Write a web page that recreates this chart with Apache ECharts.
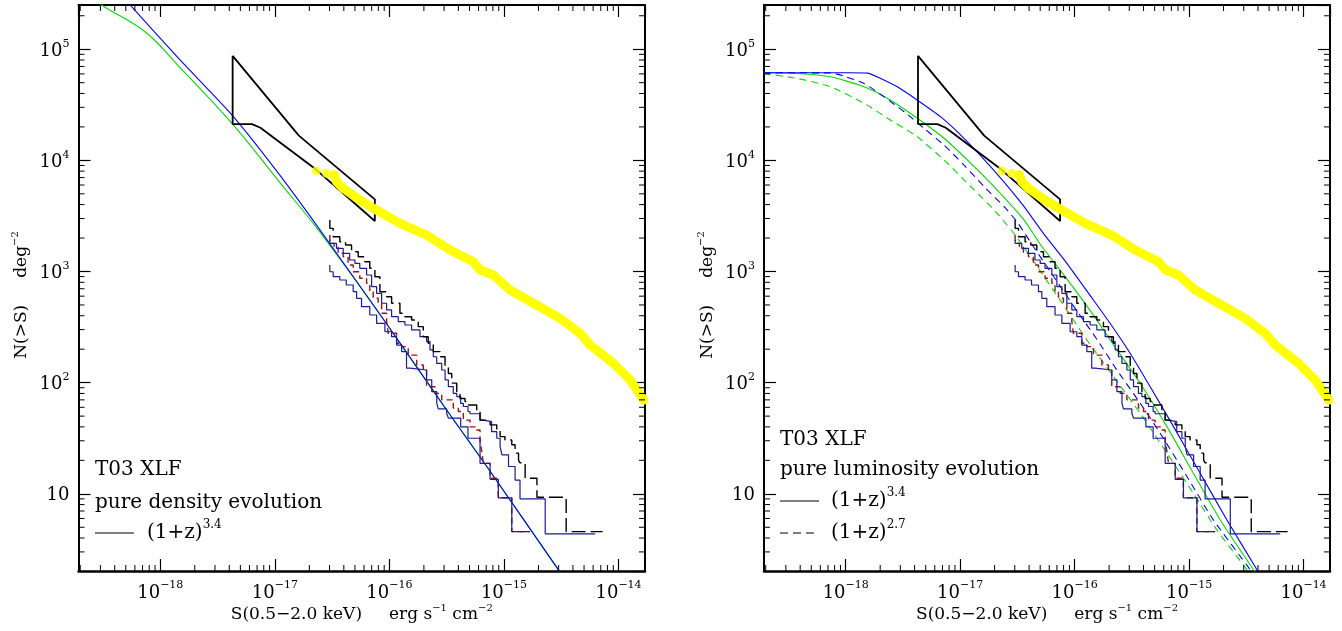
<!DOCTYPE html>
<html>
<head>
<meta charset="utf-8">
<title>N(&gt;S) T03 XLF</title>
<script src="https://cdn.jsdelivr.net/npm/echarts@6/dist/echarts.min.js"></script>
<style>
  html, body { margin: 0; padding: 0; background: #fff; }
  #chart { width: 1342px; height: 631px; }
</style>
</head>
<body>
<div id="chart"></div>
<script>
// flux values are in units of 1e-16 erg s^-1 cm^-2, counts N(>S) in deg^-2
const FLUX_EXP = -16
const X_MIN = 0.001932, X_MAX = 170.2
const Y_MIN = 2.02, Y_MAX = 2.5e5
const xTickExps = [-18, -17, -16, -15, -14]
const yTickExps = [1, 2, 3, 4, 5]
const minorMults = [2, 3, 4, 5, 6, 7, 8, 9]

// yellow source counts
const yellowDots = [[0.231, 8063], [0.282, 7640], [0.329, 7380]]
const yellowBand = [[0.329, 7380], [0.346, 6420], [0.395, 5600], [0.552, 4395], [0.773, 3574], [1.24, 2713],
  [2.11, 2130], [3.38, 1561], [5.40, 1225], [6.18, 1037], [8.07, 930], [11.3, 682], [18.1, 518],
  [30.9, 379], [46.2, 278], [56.6, 218], [90.4, 149], [126, 106], [166, 69.8]]

// fluctuation analysis region
const bowtie = [[0.0428, 87200], [0.162, 16710], [0.746, 4460], [0.746, 2845], [0.226, 8353],
  [0.0748, 19640], [0.0632, 21200], [0.0428, 21200], [0.0428, 87200]]

// observed counts (step curves)
const blackDashed = [[0.302, 2904], [0.323, 2446], [0.369, 2056], [0.414, 1854], [0.467, 1730], [0.534, 1507],
  [0.611, 1358], [0.674, 1225], [0.747, 1069], [0.826, 898], [0.945, 658], [1.045, 593], [1.235, 518],
  [1.366, 421], [1.563, 392], [1.785, 366], [1.975, 319], [2.18, 259], [2.415, 226], [2.763, 190],
  [3.06, 171], [3.27, 139], [3.5, 121], [3.87, 99], [4.13, 83], [4.57, 72], [4.89, 67.5], [5.78, 63],
  [6.18, 55], [6.84, 46], [7.56, 44.6], [8.65, 41.7], [9.25, 37.5], [10.2, 32.7], [11.7, 30.5],
  [12.5, 27.6], [13.4, 23.2], [13.8, 20], [15.3, 19], [19.4, 13.8], [34.9, 9.3], [72.6, 4.57]]
const upperBlue = [[0.302, 1920], [0.345, 1793], [0.395, 1617], [0.45, 1458], [0.5, 1269], [0.551, 1185],
  [0.632, 1069], [0.699, 930], [0.773, 730], [0.855, 637], [0.945, 518], [1.045, 451], [1.194, 392],
  [1.366, 354], [1.563, 330], [1.847, 298], [2.11, 259], [2.26, 234], [2.415, 197], [2.587, 171],
  [2.86, 149], [3.06, 130], [3.27, 106], [3.61, 92], [3.87, 80], [4.19, 75], [4.42, 65], [4.85, 61],
  [5.05, 55], [6.18, 52.5], [6.6, 46], [7.8, 44.6], [8.65, 36.2], [9.25, 31.6], [9.6, 26.6],
  [10.95, 22.4], [12.5, 17.6], [13.8, 13.3], [22.9, 9.0], [62.5, 4.36]]
const redDashed = [[0.302, 2128], [0.329, 1793], [0.357, 1671], [0.395, 1458], [0.436, 1359], [0.483, 1144],
  [0.551, 995], [0.632, 869], [0.674, 783], [0.722, 658], [0.798, 574], [0.855, 518], [0.945, 421],
  [0.976, 354], [1.156, 278], [1.278, 226], [1.46, 211], [1.73, 177], [1.975, 144], [2.11, 130],
  [2.5, 92], [2.86, 80], [3.61, 70], [4.0, 59], [4.42, 55], [5.05, 46], [5.78, 40], [6.18, 37.5],
  [6.4, 30], [6.6, 24], [7.56, 18.8], [8.9, 13.8], [11.7, 9.2], [16.8, 4.57]]
const lowerBlue = [[0.302, 1144], [0.323, 995], [0.369, 898], [0.42, 839], [0.483, 756], [0.517, 658],
  [0.571, 574], [0.674, 483], [0.773, 406], [0.913, 342], [1.045, 287], [1.156, 259], [1.278, 218],
  [1.41, 190], [1.51, 135], [2.11, 130], [2.34, 106], [2.59, 83], [2.67, 65], [3.16, 58], [3.27, 53],
  [4.19, 48], [4.85, 40], [6.18, 31.6], [7.56, 18.8], [8.93, 13.5], [11.7, 9.2], [16.8, 4.57]]

// models, pure density evolution
const pdeBlue = [[0.0045, 3.1e5], [0.00547, 2.49e5], [0.01445, 82650], [0.0423, 25550], [0.108, 7600],
  [0.242, 2446], [0.855, 392], [3.16, 56.8], [7.08, 17.6], [29.9, 2.07], [36, 1.6]]
const pdeGreen = [[0.0027, 2.8e5], [0.00309, 2.49e5], [0.0074, 1.43e5], [0.01445, 70500], [0.0428, 21200],
  [0.108, 6513], [0.242, 2330], [0.855, 392], [3.16, 56.8], [7.08, 17.6], [29.9, 2.07], [36, 1.6]]

// models, pure luminosity evolution
const pleBlue34 = [[0.00193, 61400], [0.0105, 61400], [0.01545, 61000], [0.0202, 54600], [0.0282, 45900],
  [0.0423, 34800], [0.0677, 24600], [0.108, 15800], [0.185, 8760], [0.277, 5410], [0.362, 3830],
  [0.533, 2205], [0.855, 1185], [1.46, 554], [2.04, 342], [3.05, 184], [4.57, 92], [7.31, 40.2],
  [12.5, 15.3], [21.4, 5.82], [39.2, 2.07], [46, 1.6]]
const pleBlue27 = [[0.00193, 61400], [0.0074, 61200], [0.00966, 57200], [0.01445, 49260], [0.0216, 37300],
  [0.0324, 27350], [0.0483, 19410], [0.0723, 13700], [0.108, 9080], [0.162, 5790], [0.242, 3830],
  [0.317, 2760], [0.437, 1671], [0.658, 898], [0.985, 483], [1.58, 242], [2.34, 130], [3.74, 65.3],
  [5.59, 35.1], [9.57, 14.3], [16.3, 5.82], [34.2, 2.07], [40, 1.6]]
const pleGreen34 = [[0.00193, 61400], [0.00378, 60500], [0.0074, 56500], [0.01445, 45900], [0.0247, 34800],
  [0.0423, 23900], [0.0723, 15800], [0.124, 9400], [0.211, 5410], [0.362, 2904], [0.499, 1770],
  [0.855, 858], [1.46, 405], [2.34, 197], [3.74, 98.8], [6.4, 40.2], [10.9, 15.3], [18.7, 5.82],
  [36.6, 2.07], [43, 1.6]]
const pleGreen27 = [[0.00193, 60500], [0.00378, 54600], [0.0074, 45900], [0.01445, 32600], [0.0247, 23000],
  [0.0423, 16300], [0.0723, 10060], [0.124, 5790], [0.211, 3338], [0.317, 1990], [0.745, 555],
  [1.28, 242], [2.19, 113], [3.74, 53], [6.4, 23.2], [10.9, 10.1], [17.5, 4.73], [32, 2.07], [37, 1.6]]

const FONT = 'DejaVu Serif'
const MINUS = '\u2212'

let myChart = echarts.init(document.getElementById('chart'), null, {renderer: 'canvas'})

function decadeOf (v) {
  let e = Math.round(Math.log10(v))
  return Math.abs(Math.log10(v) - e) < 1e-6 ? e : null
}

let labelRich = {
  b: {fontFamily: FONT, fontSize: 18, color: '#000', lineHeight: 22, verticalAlign: 'bottom'},
  s: {fontFamily: FONT, fontSize: 11, color: '#000', lineHeight: 16, verticalAlign: 'top'}
}
let nameRich = {
  t: {fontFamily: FONT, fontSize: 17, color: '#000', lineHeight: 20, verticalAlign: 'bottom'},
  s: {fontFamily: FONT, fontSize: 10, color: '#000', lineHeight: 14, verticalAlign: 'top'}
}

function xAxes (gridIndex) {
  let base = {
    type: 'log', logBase: 10, min: X_MIN, max: X_MAX, gridIndex: gridIndex,
    splitLine: {show: false},
    axisLine: {show: true, onZero: false, lineStyle: {color: '#000', width: 2}},
    axisTick: {show: true, inside: true, length: 12, lineStyle: {color: '#000', width: 1.2}}
  }
  return [
    Object.assign({}, base, {
      position: 'bottom',
      name: '{t|S(0.5' + MINUS + '2.0 keV)     erg s}{s|' + MINUS + '1}{t| cm}{s|' + MINUS + '2}',
      nameLocation: 'middle', nameGap: 32, nameMoveOverlap: false,
      nameTextStyle: {rich: nameRich},
      axisLine: {show: true, onZero: false, lineStyle: {color: '#000', width: 2.5}},
      axisLabel: {
        margin: 9, showMinLabel: false, showMaxLabel: false, hideOverlap: false,
        rich: labelRich,
        formatter: v => {
          let e = decadeOf(v)
          if (e === null || xTickExps.indexOf(e + FLUX_EXP) < 0) return ''
          return '{b|10}{s|' + MINUS + (-(e + FLUX_EXP)) + '}'
        }
      }
    }),
    Object.assign({}, base, {position: 'top', axisLabel: {show: false}})
  ]
}

function yAxes (gridIndex) {
  let base = {
    type: 'log', logBase: 10, min: Y_MIN, max: Y_MAX, gridIndex: gridIndex,
    splitLine: {show: false},
    axisLine: {show: true, onZero: false, lineStyle: {color: '#000', width: 2}},
    axisTick: {show: true, inside: true, length: 12, lineStyle: {color: '#000', width: 1.2}}
  }
  return [
    Object.assign({}, base, {
      position: 'left',
      name: '{t|N(>S)     deg}{s|' + MINUS + '2}',
      nameLocation: 'middle', nameGap: 48, nameMoveOverlap: false,
      nameTextStyle: {rich: nameRich, padding: [0, 14, 0, 0]},
      axisLabel: {
        margin: 9, showMinLabel: false, showMaxLabel: false, hideOverlap: false,
        rich: labelRich,
        formatter: v => {
          let e = decadeOf(v)
          if (e === null || yTickExps.indexOf(e) < 0) return ''
          return e === 1 ? '{b|10}' : '{b|10}{s|' + e + '}'
        }
      }
    }),
    Object.assign({}, base, {position: 'right', axisLabel: {show: false}})
  ]
}

// minor tick positions at 2..9 times each power of ten inside the range
let xMinor = []
for (let k = -3; k <= 2; k++) minorMults.forEach(m => { let v = m * Math.pow(10, k); if (v > X_MIN && v < X_MAX) xMinor.push(v) })
let yMinor = []
for (let k = 0; k <= 5; k++) minorMults.forEach(m => { let v = m * Math.pow(10, k); if (v > Y_MIN && v < Y_MAX) yMinor.push(v) })

function tickLine (x1, y1, x2, y2) {
  return {type: 'line', shape: {x1: x1, y1: y1, x2: x2, y2: y2}, style: {stroke: '#000', lineWidth: 1}}
}

function minorTicks (p) {
  return [{
    type: 'custom', xAxisIndex: p * 2, yAxisIndex: p * 2, silent: true, clip: false, z: 8,
    data: xMinor.map(v => [v, Y_MIN]),
    renderItem: (params, api) => {
      let b = api.coord([api.value(0), Y_MIN])
      let t = api.coord([api.value(0), Y_MAX])
      return {type: 'group', children: [tickLine(b[0], b[1], b[0], b[1] - 6), tickLine(t[0], t[1], t[0], t[1] + 6)]}
    }
  }, {
    type: 'custom', xAxisIndex: p * 2, yAxisIndex: p * 2, silent: true, clip: false, z: 8,
    data: yMinor.map(v => [X_MIN, v]),
    renderItem: (params, api) => {
      let l = api.coord([X_MIN, api.value(1)])
      let r = api.coord([X_MAX, api.value(1)])
      return {type: 'group', children: [tickLine(l[0], l[1], l[0] + 6, l[1]), tickLine(r[0], r[1], r[0] - 6, r[1])]}
    }
  }]
}

function lineSeries (p, data, color, width, dash, extra) {
  return Object.assign({
    type: 'line', xAxisIndex: p * 2, yAxisIndex: p * 2, data: data.map(d => [d[0], d[1]]),
    showSymbol: false, symbol: 'none', silent: true,
    lineStyle: {color: color, width: width, type: dash || 'solid'}
  }, extra || {})
}

function dataSeries (p) {
  return [
    lineSeries(p, redDashed, '#a01010', 1.4, [6, 4], {step: 'start', z: 4}),
    lineSeries(p, lowerBlue, '#1a1a9c', 1.2, 'solid', {step: 'start', z: 4}),
    lineSeries(p, upperBlue, '#1a1a9c', 1.2, 'solid', {step: 'start', z: 4}),
    lineSeries(p, blackDashed, '#000', 1.4, [14, 5], {step: 'start', z: 4}),
    lineSeries(p, bowtie, '#000', 1.8, 'solid', {z: 5}),
    lineSeries(p, yellowBand, '#ffff00', 9, 'solid', {z: 6, lineStyle: {color: '#ffff00', width: 9, cap: 'round', join: 'round'}}),
    {
      type: 'scatter', xAxisIndex: p * 2, yAxisIndex: p * 2, silent: true, z: 6,
      data: yellowDots.concat(yellowBand).map(d => [d[0], d[1]]), symbol: 'circle', symbolSize: 9,
      itemStyle: {color: '#ffff00'}
    }
  ]
}

function modelSeries (p, data, color, dash, smooth) {
  return lineSeries(p, data, color, 1.1, dash, {smooth: smooth || 0.2, z: color === '#00dd00' ? 2 : 3})
}

function textEl (x, y, text, rich) {
  return {
    type: 'text', x: x, y: y, silent: true, z: 20,
    style: {text: text, fill: '#000', font: '20px "DejaVu Serif"', verticalAlign: 'middle', align: 'left', rich: rich}
  }
}
let legendRich = {
  b: {fontFamily: FONT, fontSize: 20, color: '#000', lineHeight: 24, verticalAlign: 'bottom'},
  s: {fontFamily: FONT, fontSize: 12, color: '#000', lineHeight: 16, verticalAlign: 'top'}
}

let option = {
  animation: false,
  backgroundColor: '#fff',
  grid: [
    {left: 78.5, top: 5, width: 566.5, height: 566, outerBoundsMode: 'none'},
    {left: 764, top: 5, width: 566, height: 566, outerBoundsMode: 'none'}
  ],
  xAxis: xAxes(0).concat(xAxes(1)),
  yAxis: yAxes(0).concat(yAxes(1)),
  graphic: [
    textEl(95, 470, 'T03 XLF'),
    textEl(95, 503, 'pure density evolution'),
    {type: 'line', silent: true, shape: {x1: 95, y1: 533, x2: 134, y2: 533}, style: {stroke: '#000', lineWidth: 1.2}},
    textEl(147, 531, '{b|(1+z)}{s|3.4}', legendRich),
    textEl(780, 440, 'T03 XLF'),
    textEl(780, 470, 'pure luminosity evolution'),
    {type: 'line', silent: true, shape: {x1: 780, y1: 501, x2: 819, y2: 501}, style: {stroke: '#000', lineWidth: 1.2}},
    textEl(831, 499, '{b|(1+z)}{s|3.4}', legendRich),
    {type: 'line', silent: true, shape: {x1: 780, y1: 533, x2: 819, y2: 533}, style: {stroke: '#000', lineWidth: 1.2, lineDash: [8, 5]}},
    textEl(831, 531, '{b|(1+z)}{s|2.7}', legendRich)
  ],
  series: [].concat(
    modelSeries(0, pdeGreen, '#00dd00', 'solid', 0.4),
    modelSeries(0, pdeBlue, '#0000ff'),
    dataSeries(0),
    minorTicks(0),
    modelSeries(1, pleGreen27, '#00dd00', [7, 5]),
    modelSeries(1, pleGreen34, '#00dd00'),
    modelSeries(1, pleBlue27, '#0000ff', [7, 5]),
    modelSeries(1, pleBlue34, '#0000ff'),
    dataSeries(1),
    minorTicks(1)
  )
}
myChart.setOption(option)
</script>
</body>
</html>
